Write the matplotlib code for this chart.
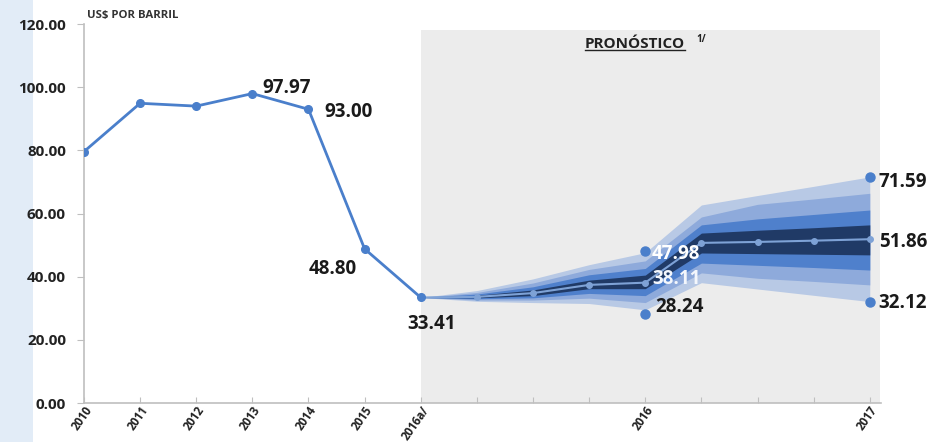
import matplotlib
matplotlib.use("Agg")
import matplotlib.pyplot as plt
from matplotlib.lines import Line2D
from matplotlib.patches import Rectangle

# ---- data ----
categories = ['2010', '2011', '2012', '2013', '2014', '2015', '2016a/',
              '', '', '', '2016', '', '', '', '2017']
hist_values = [79.6, 94.9, 94.0, 97.97, 93.00, 48.80, 33.41]

fc_median = [33.41, 33.6, 34.8, 37.4, 38.11, 50.7, 51.0, 51.4, 51.86]
# band edges (outer lower ... outer upper), forecast category indices 6..14
fc_low3 = [33.41, 32.2, 31.8, 31.5, 29.5, 38.1, 36.1, 34.1, 32.12]
fc_low2 = [33.41, 32.6, 32.6, 33.2, 31.8, 41.2, 39.5, 38.5, 37.4]
fc_low1 = [33.41, 33.0, 33.3, 34.7, 34.0, 44.3, 43.6, 42.9, 42.1]
fc_low0 = [33.41, 33.3, 34.0, 36.2, 36.2, 47.5, 47.3, 47.1, 46.9]
fc_up0 = [33.41, 34.1, 35.8, 38.9, 40.5, 53.8, 54.7, 55.5, 56.4]
fc_up1 = [33.41, 34.5, 36.8, 40.6, 42.6, 56.4, 58.3, 59.7, 61.1]
fc_up2 = [33.41, 35.0, 38.0, 42.3, 45.0, 58.9, 62.9, 64.6, 66.4]
fc_up3 = [33.41, 35.6, 39.3, 43.8, 47.6, 62.7, 65.7, 68.6, 71.59]

extremes_x = [10, 10, 14, 14]
extremes_y = [47.98, 28.24, 71.59, 32.12]

yticks = [0, 20, 40, 60, 80, 100, 120]

# ---- figure ----
fig = plt.figure(figsize=(9.30, 4.42), dpi=100)
fig.patches.append(Rectangle((0, 0), 0.036, 1, transform=fig.transFigure,
                             facecolor='#e2ecf7', edgecolor='none', zorder=-10))
ax = fig.add_axes([0.0903, 0.0882, 0.857, 0.8575])

hx = list(range(len(hist_values)))
fx = list(range(6, 6 + len(fc_median)))

# shaded forecast region
ax.add_patch(Rectangle((6, 0), 8.18, 118, facecolor='#ececec',
                       edgecolor='none', zorder=0))

c_light = '#b8c9e5'
c_mid2 = '#8eaadb'
c_mid = '#4f80cc'
c_dark = '#203a66'
ax.fill_between(fx, fc_low3, fc_up3, color=c_light, lw=0, zorder=1)
ax.fill_between(fx, fc_low2, fc_up2, color=c_mid2, lw=0, zorder=2)
ax.fill_between(fx, fc_low1, fc_up1, color=c_mid, lw=0, zorder=3)
ax.fill_between(fx, fc_low0, fc_up0, color=c_dark, lw=0, zorder=4)

ax.plot(fx, fc_median, color='#7ea2d6', lw=1.5, marker='o', ms=4, zorder=5)
ax.plot(hx, hist_values, color='#4a7fcb', lw=2, marker='o', ms=5.5, zorder=6)
ax.plot(extremes_x, extremes_y, ls='none', marker='o', ms=6.5,
        color='#4a7fcb', zorder=6)

# ---- labels ----
tkw = dict(fontsize=13.5, fontweight='bold', color='#1a1a1a', family='Open Sans',
           zorder=7)
ax.text(3.17, 99.7, f'{hist_values[3]:.2f}', ha='left', va='center', **tkw)
ax.text(4.29, 92.2, f'{hist_values[4]:.2f}', ha='left', va='center', **tkw)
ax.text(4.86, 42.4, f'{hist_values[5]:.2f}', ha='right', va='center', **tkw)
ax.text(6.2, 25.0, f'{hist_values[6]:.2f}', ha='center', va='center', **tkw)
ax.text(10.12, 47.3, f'{extremes_y[0]:.2f}', ha='left', va='center',
        **{**tkw, 'color': 'white'})
ax.text(10.12, 39.2, f'{fc_median[4]:.2f}', ha='left', va='center',
        **{**tkw, 'color': '#f4f7fc'})
ax.text(10.17, 30.4, f'{extremes_y[1]:.2f}', ha='left', va='center', **tkw)
ax.text(14.15, 70.0, f'{extremes_y[2]:.2f}', ha='left', va='center', **tkw)
ax.text(14.17, 51.0, f'{fc_median[-1]:.2f}', ha='left', va='center', **tkw)
ax.text(14.15, 31.7, f'{extremes_y[3]:.2f}', ha='left', va='center', **tkw)

fig.text(0.094, 0.966, 'US$ POR BARRIL', fontsize=8.2, fontweight='bold',
         color='#333333', family='Open Sans', va='center', ha='left')
pron = fig.text(0.629, 0.900, 'PRONÓSTICO', fontsize=11, fontweight='bold',
                color='#222222', family='Open Sans', va='center', ha='left')
fig.text(0.749, 0.911, '1/', fontsize=7, fontweight='bold',
         color='#222222', family='Open Sans', va='center', ha='left')

# ---- axes styling ----
ax.set_xlim(0, 14.2)
ax.set_ylim(0, 120)
ax.set_yticks(yticks)
ax.set_yticklabels([f'{v:.2f}' for v in yticks], fontsize=11,
                   fontweight='bold', family='Open Sans', color='#222222')
ax.set_xticks(range(len(categories)))
ax.set_xticklabels(categories, rotation=55, ha='right', rotation_mode='anchor',
                   fontsize=8.3, fontweight='bold', family='Open Sans',
                   color='#222222')
ax.tick_params(axis='x', direction='in', length=4, color='#bfbfbf', pad=0.5)
ax.tick_params(axis='y', direction='out', length=5, color='#bfbfbf', pad=8)
for s in ['top', 'right']:
    ax.spines[s].set_visible(False)
for s in ['left', 'bottom']:
    ax.spines[s].set_color('#bfbfbf')
    ax.spines[s].set_linewidth(1.2)
ax.set_facecolor('none')

# underline for PRONÓSTICO
fig.canvas.draw()
bb = pron.get_window_extent().transformed(fig.transFigure.inverted())
fig.add_artist(Line2D([bb.x0, bb.x1], [bb.y0 + 0.002, bb.y0 + 0.002],
                      transform=fig.transFigure, color='#222222', lw=1))

fig.savefig('out.png', dpi=100)
